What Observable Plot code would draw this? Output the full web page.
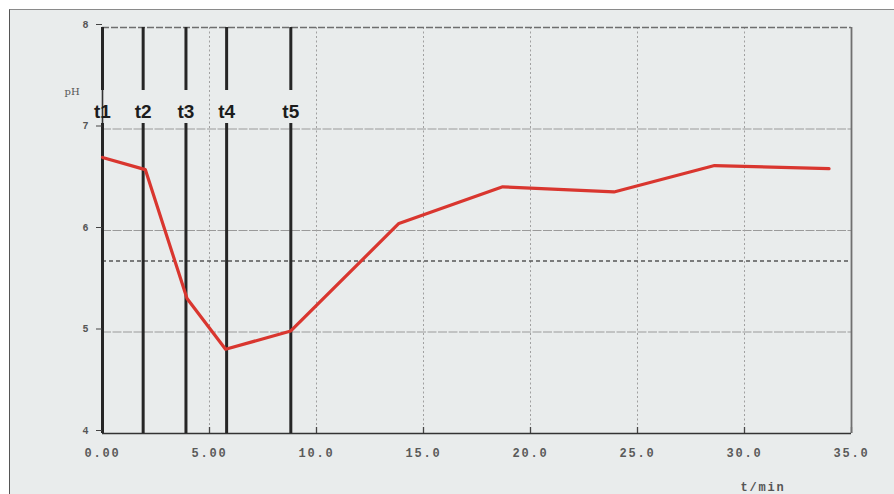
<!DOCTYPE html>
<html>
<head>
<meta charset="utf-8">
<script src="https://cdn.jsdelivr.net/npm/d3@7"></script>
<script src="https://cdn.jsdelivr.net/npm/@observablehq/plot@0.6"></script>
<style>
  body { margin: 0; background: #fff; }
  #wrap { position: relative; width: 894px; height: 494px; overflow: hidden; }
  #bg { position: absolute; left: 9px; top: 9px; right: 0; bottom: 0; background: #e9ecec;
        border-top: 1.5px solid #8a8a8a; border-left: 1.5px solid #555; }
  #chart { position: absolute; left: 0; top: 0; }
</style>
</head>
<body>
<div id="wrap"><div id="bg"></div><div id="chart"></div></div>
<script>
// Measured series: pH over time (minutes)
const tMin = [0, 2.0, 3.95, 5.75, 8.8, 13.85, 18.7, 23.9, 28.6, 33.95];
const pHValues = [6.72, 6.6, 5.33, 4.83, 5.01, 6.07, 6.43, 6.38, 6.64, 6.61];

// Event markers
const eventLabels = ["t1", "t2", "t3", "t4", "t5"];
const eventTimes = [0, 1.9, 3.9, 5.8, 8.8];

// Reference (dashed) pH level
const referencePH = [5.7];

// Axis ticks
const xTicks = [0, 5, 10, 15, 20, 25, 30, 35];
const xTickLabels = ["0.00", "5.00", "10.0", "15.0", "20.0", "25.0", "30.0", "35.0"];
const xGrid = [5, 10, 15, 20, 25, 30];
const yTicks = [4, 5, 6, 7, 8];
const yTickLabels = ["4", "5", "6", "7", "8"];
const yGrid = [5, 6, 7];

const series = tMin.map((t, i) => ({t, pH: pHValues[i]}));
const events = eventLabels.map((label, i) => ({label, t: eventTimes[i]}));

const mono = "Liberation Mono, DejaVu Sans Mono, monospace";

const chart = Plot.plot({
  width: 894,
  height: 494,
  marginLeft: 102,
  marginRight: 43,
  marginTop: 27,
  marginBottom: 61,
  style: {background: "transparent", color: "#444", overflow: "visible"},
  x: {domain: [0, 35]},
  y: {domain: [4, 8]},
  marks: [
    // grid
    Plot.ruleY(yGrid, {stroke: "#9a9a9a", strokeWidth: 1, strokeDasharray: "9,1.5"}),
    Plot.ruleX(xGrid, {stroke: "#a0a0a0", strokeWidth: 1, strokeDasharray: "2,2.5"}),
    // x tick marks (inward)
    Plot.ruleX(xTicks, {stroke: "#444", strokeWidth: 1.3, insetTop: 400}),
    // frame lines
    Plot.ruleY([8], {stroke: "#6e6e6e", strokeWidth: 1.6, strokeDasharray: "7,2"}),
    Plot.ruleX([35], {stroke: "#707070", strokeWidth: 1.8}),
    Plot.ruleY([4], {stroke: "#333", strokeWidth: 1.6}),
    Plot.ruleX([0], {stroke: "#333", strokeWidth: 1.6}),
    // reference dashed level
    Plot.ruleY(referencePH, {stroke: "#555", strokeWidth: 1.4, strokeDasharray: "4,3"}),
    // event lines with a gap for the labels
    Plot.ruleX(events, {x: "t", stroke: "#262626", strokeWidth: 3, insetBottom: 343}),
    Plot.ruleX(events, {x: "t", stroke: "#262626", strokeWidth: 3, insetTop: 96}),
    Plot.text(events, {x: "t", text: "label", frameAnchor: "top", dy: 77,
      fontFamily: "Liberation Sans, Arial, sans-serif", fontWeight: "bold", fontSize: 19, fill: "#1c1c1c"}),
    // pH curve
    Plot.line(series, {x: "t", y: "pH", stroke: "#d9362f", strokeWidth: 3.2, strokeLinejoin: "round"}),
    // axes
    Plot.axisX(xTicks, {tickSize: 0, tickPadding: 15, tickFormat: (d, i) => xTickLabels[i],
      fontFamily: mono, fontWeight: "bold", fontSize: 12, fill: "#5a5a5a", label: null}),
    Plot.axisY(yTicks, {tickSize: 6, tickPadding: 8, dy: -3, tickFormat: (d, i) => yTickLabels[i],
      fontFamily: mono, fontWeight: "bold", fontSize: 10, fill: "#555", label: null}),
    // axis titles
    Plot.text(["pH"], {frameAnchor: "top-left", dx: -38, dy: 60, fontFamily: "DejaVu Serif, serif",
      fontSize: 10, fill: "#555"}),
    Plot.text(["t/min"], {frameAnchor: "bottom-right", dx: -66, dy: 57, fontFamily: mono,
      fontWeight: "bold", fontSize: 12, fill: "#555", className: "spaced"})
  ]
});

d3.select(chart).selectAll("[aria-label='x-axis tick label'] text, .spaced text")
  .style("letter-spacing", "1.8px");

document.getElementById("chart").appendChild(chart);
</script>
</body>
</html>
